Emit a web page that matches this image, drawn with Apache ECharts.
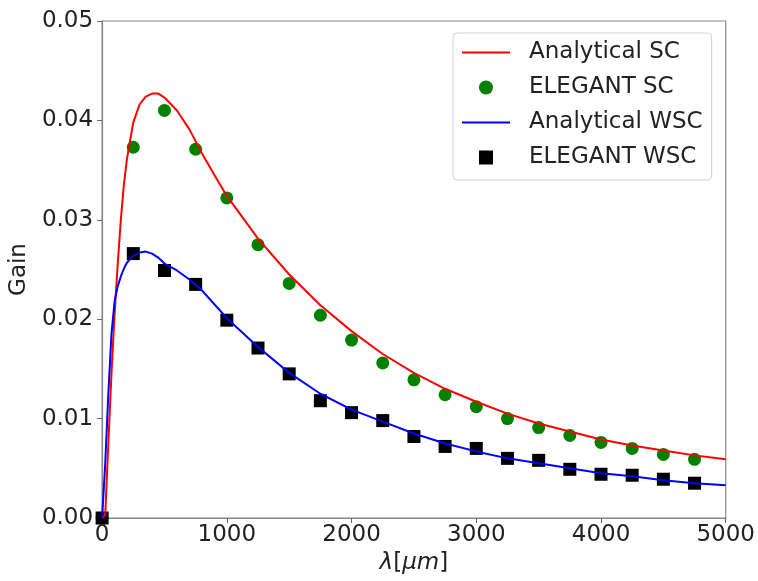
<!DOCTYPE html>
<html><head><meta charset="utf-8">
<script src="https://cdn.jsdelivr.net/npm/echarts@6/dist/echarts.min.js"></script>
<style>html,body{margin:0;padding:0;background:#fff}#c{width:758px;height:581px}</style>
</head><body><div id="c"></div>
<script>
// ---- data ----
const markerLambda = [0,250,500,750,1000,1250,1500,1750,2000,2250,2500,2750,3000,3250,3500,3750,4000,4250,4500,4750];
const elegantSC  = [0,0.0373,0.0410,0.0371,0.0322,0.0275,0.0236,0.0204,0.0179,0.0156,0.0139,0.0124,0.0112,0.0100,0.0091,0.0083,0.0076,0.0070,0.0064,0.0059];
const elegantWSC = [0,0.0266,0.0249,0.0235,0.0199,0.0171,0.0145,0.0118,0.0106,0.0098,0.0082,0.0072,0.0070,0.0060,0.0058,0.0049,0.0044,0.0043,0.0039,0.0035];
const curveLambda = [0,25,50,75,100,125,150,175,200,250,300,350,400,450,500,600,700,800,900,1000,1250,1500,1750,2000,2250,2500,2750,3000,3250,3500,3750,4000,4250,4500,4750,5000];
const analyticalSC  = [0,0.0003,0.0075,0.0145,0.0205,0.0255,0.0300,0.0336,0.0362,0.0398,0.0416,0.0424,0.0427,0.0427,0.0423,0.0410,0.0391,0.0367,0.0345,0.0324,0.0281,0.0245,0.0214,0.0188,0.0165,0.0146,0.0130,0.0117,0.0105,0.0095,0.0087,0.0079,0.0073,0.0068,0.0063,0.0059];
const analyticalWSC = [0,0.0055,0.0125,0.0185,0.0218,0.0233,0.0243,0.0251,0.0257,0.0264,0.0267,0.0268,0.0266,0.0262,0.0256,0.0249,0.0240,0.0229,0.0215,0.0201,0.0172,0.0146,0.0125,0.0109,0.0097,0.0085,0.0075,0.0067,0.0060,0.0055,0.0050,0.0045,0.0042,0.0038,0.0035,0.0033];
const seriesNames = ['Analytical SC','ELEGANT SC','Analytical WSC','ELEGANT WSC'];
const xTicks = {min:0, max:5000, step:1000};
const yTicks = {min:0, max:0.05, step:0.01};

const pair = (xs, ys) => xs.map((x, i) => [x, ys[i]]);
const FONT = 'DejaVu Sans';
const LINE_ICON = 'path://M0,0L48,0L48,2.2L0,2.2Z';
const SQUARE_ICON = 'path://M0,0L10,0L10,10L0,10Z';
const chart = echarts.init(document.getElementById('c'), null, {renderer:'canvas'});
chart.setOption({
  animation: false,
  backgroundColor: '#fff',
  textStyle: {fontFamily: FONT},
  grid: {left:102, right:31, top:21, bottom:63, show:true, borderColor:'#888', borderWidth:1.2, containLabel:false},
  xAxis: {
    type:'value', min:xTicks.min, max:xTicks.max, interval:xTicks.step,
    axisLine:{show:true, lineStyle:{color:'#888', width:1.2}},
    axisTick:{show:true, inside:false, length:5, lineStyle:{color:'#666'}},
    axisLabel:{fontSize:23, color:'#222', margin:6, fontFamily:FONT, formatter:v => String(v)},
    splitLine:{show:false},
    name:'{i|λ}[{i|μm}]', nameLocation:'middle', nameGap:31,
    nameTextStyle:{fontSize:23, color:'#222', fontFamily:FONT,
      rich:{i:{fontSize:23, fontStyle:'italic', color:'#222', fontFamily:FONT}}}
  },
  yAxis: {
    type:'value', min:yTicks.min, max:yTicks.max, interval:yTicks.step,
    axisLine:{show:true, lineStyle:{color:'#888', width:1.2}},
    axisTick:{show:true, inside:false, length:5, lineStyle:{color:'#666'}},
    axisLabel:{fontSize:23, color:'#222', margin:9, fontFamily:FONT, formatter:v => v.toFixed(2)},
    splitLine:{show:false},
    name:'Gain', nameLocation:'middle', nameGap:64, nameRotate:90,
    nameTextStyle:{fontSize:23, color:'#222', fontFamily:FONT}
  },
  legend: {
    orient:'vertical', left:453, top:33,
    itemWidth:48, itemHeight:14, itemGap:12,
    padding:[8,9,11,9],
    backgroundColor:'#fff', borderColor:'#d0d0d0', borderWidth:1, borderRadius:4,
    textStyle:{fontSize:23, color:'#222', fontFamily:FONT, lineHeight:22, padding:[0,0,0,14]},
    data: [
      {name:seriesNames[0], icon:LINE_ICON},
      {name:seriesNames[1], icon:'circle'},
      {name:seriesNames[2], icon:LINE_ICON},
      {name:seriesNames[3], icon:SQUARE_ICON}
    ]
  },
  series: [
    {name:seriesNames[0], type:'line', data:pair(curveLambda, analyticalSC), symbol:'none', smooth:false,
     lineStyle:{color:'#ff0000', width:2}, itemStyle:{color:'#ff0000'}},
    {name:seriesNames[1], type:'scatter', data:pair(markerLambda, elegantSC), symbol:'circle', symbolSize:13,
     itemStyle:{color:'#008000', opacity:1}},
    {name:seriesNames[2], type:'line', data:pair(curveLambda, analyticalWSC), symbol:'none', smooth:false,
     lineStyle:{color:'#0000ff', width:2}, itemStyle:{color:'#0000ff'}},
    {name:seriesNames[3], type:'scatter', data:pair(markerLambda, elegantWSC), symbol:'rect', symbolSize:13,
     itemStyle:{color:'#000000', opacity:1}}
  ]
});
</script></body></html>
